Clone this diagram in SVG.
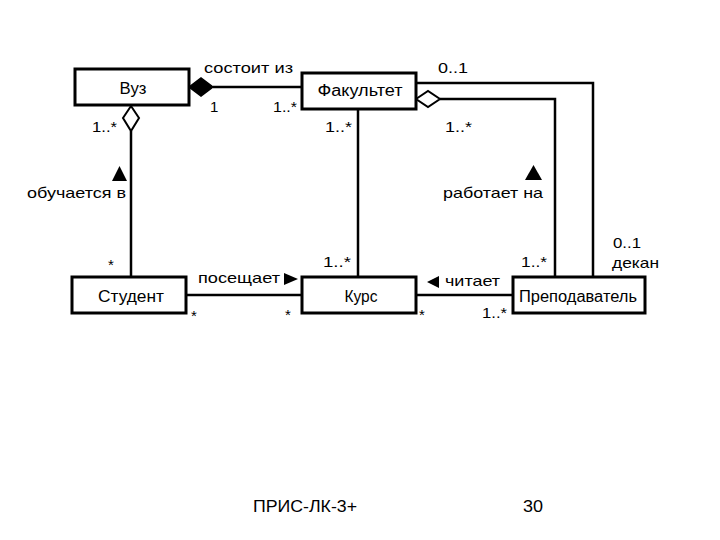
<svg xmlns="http://www.w3.org/2000/svg" width="720" height="540" viewBox="0 0 720 540">
<style>
.box{fill:#fff;stroke:#000;stroke-width:3}
.ln{fill:none;stroke:#000;stroke-width:2.5}
.t{font-family:"Liberation Sans",Arial,sans-serif;font-size:15px;fill:#000}
.n{font-family:"Liberation Sans",Arial,sans-serif;font-size:16px;fill:#000;text-anchor:middle}
.f{font-family:"Liberation Sans",Arial,sans-serif;font-size:16px;fill:#000}
</style>
<rect width="720" height="540" fill="#fff"/>
<g id="connectors">
<path class="ln" d="M213,87 H302"/>
<polygon points="189,87 201,78 213,87 201,96" fill="#000" stroke="#000" stroke-width="1.5"/>
<path class="ln" d="M416,83 H593 V277"/>
<path class="ln" d="M440,99 H555 V277"/>
<polygon points="416,99 428,91 440,99 428,107" fill="#fff" stroke="#000" stroke-width="2"/>
<path class="ln" d="M358,109 V277"/>
<path class="ln" d="M131,131 V277"/>
<polygon points="131,106 139,118 131,131 123,118" fill="#fff" stroke="#000" stroke-width="2"/>
<path class="ln" d="M186,295 H302"/>
<path class="ln" d="M416,295 H513"/>
</g>
<g id="vuz"><rect class="box" x="75" y="69" width="114" height="36"/><text class="n" x="133" y="94" textLength="27" lengthAdjust="spacingAndGlyphs">Вуз</text></g>
<g id="fakultet"><rect class="box" x="302" y="73" width="114" height="36"/><text class="n" x="360" y="96" textLength="85" lengthAdjust="spacingAndGlyphs">Факультет</text></g>
<g id="student"><rect class="box" x="72" y="277" width="114" height="36"/><text class="n" x="131" y="302" textLength="66" lengthAdjust="spacingAndGlyphs">Студент</text></g>
<g id="kurs"><rect class="box" x="302" y="277" width="114" height="36"/><text class="n" x="361" y="302" textLength="33" lengthAdjust="spacingAndGlyphs">Курс</text></g>
<g id="prepodavatel"><rect class="box" x="513" y="277" width="132" height="36"/><text class="n" x="578" y="302" textLength="118" lengthAdjust="spacingAndGlyphs">Преподаватель</text></g>
<g id="labels">
<text class="t" x="204" y="73" textLength="89" lengthAdjust="spacingAndGlyphs">состоит из</text>
<text class="t" x="210" y="112">1</text>
<text class="t" x="273" y="112" textLength="24" lengthAdjust="spacingAndGlyphs">1..*</text>
<text class="t" x="92" y="132" textLength="25" lengthAdjust="spacingAndGlyphs">1..*</text>
<polygon points="119.5,166 127,181 112,181" fill="#000"/>
<text class="t" x="27" y="198" textLength="99" lengthAdjust="spacingAndGlyphs">обучается в</text>
<text class="t" x="108" y="270">*</text>
<text class="t" x="198" y="283" textLength="82" lengthAdjust="spacingAndGlyphs">посещает</text>
<polygon points="284,273 298,279 284,285" fill="#000"/>
<text class="t" x="191" y="321">*</text>
<text class="t" x="285" y="320">*</text>
<text class="t" x="325" y="132" textLength="27" lengthAdjust="spacingAndGlyphs">1..*</text>
<text class="t" x="323" y="267" textLength="28" lengthAdjust="spacingAndGlyphs">1..*</text>
<text class="t" x="438" y="73" textLength="30" lengthAdjust="spacingAndGlyphs">0..1</text>
<text class="t" x="445" y="132" textLength="27" lengthAdjust="spacingAndGlyphs">1..*</text>
<polygon points="533.5,165 542,180 525,180" fill="#000"/>
<text class="t" x="443" y="198" textLength="100" lengthAdjust="spacingAndGlyphs">работает на</text>
<text class="t" x="521" y="267" textLength="26" lengthAdjust="spacingAndGlyphs">1..*</text>
<polygon points="427,282 439,276 439,288" fill="#000"/>
<text class="t" x="445" y="286" textLength="55" lengthAdjust="spacingAndGlyphs">читает</text>
<text class="t" x="419" y="320">*</text>
<text class="t" x="482" y="318" textLength="25" lengthAdjust="spacingAndGlyphs">1..*</text>
<text class="t" x="613" y="248" textLength="28" lengthAdjust="spacingAndGlyphs">0..1</text>
<text class="t" x="612" y="268" textLength="47" lengthAdjust="spacingAndGlyphs">декан</text>
</g>
<g id="footer">
<text class="f" x="253" y="512" textLength="104" lengthAdjust="spacingAndGlyphs">ПРИС-ЛК-3+</text>
<text class="f" x="523" y="512" textLength="20" lengthAdjust="spacingAndGlyphs">30</text>
</g>
</svg>
